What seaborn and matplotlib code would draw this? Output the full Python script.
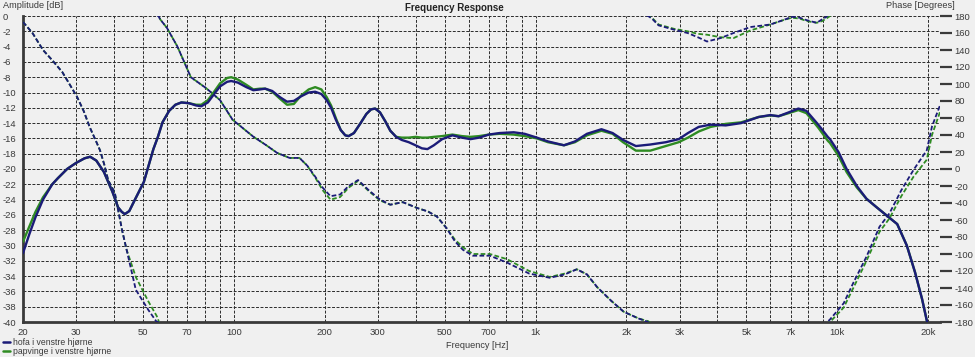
import numpy as np
import pandas as pd
import matplotlib
matplotlib.use("Agg")
import matplotlib.pyplot as plt
from matplotlib.ticker import FixedLocator, NullLocator, FixedFormatter
from matplotlib.lines import Line2D
import seaborn as sns

# ---------------- data ----------------
series_names = ["hofa i venstre hjørne", "papvinge i venstre hjørne"]
series_colors = ["#1b1b78", "#2e8b22"]

amp_freq = [20, 21, 22, 23.3, 25, 26.1, 28, 30, 32, 33.4, 35, 37.1, 39.6, 41.3, 42.5, 43.5,
            45, 47, 50.3, 54.1, 56, 58, 61, 64, 67, 71, 75, 78, 82, 86, 90, 95, 98, 103,
            110, 116, 122, 127, 134, 142, 150, 158, 167, 177, 186, 195, 203, 210, 218,
            226, 234, 240, 250, 262, 275, 285, 294, 305, 318, 330, 345, 360, 380, 400,
            420, 438, 460, 490, 530, 570, 608, 650, 700, 760, 846, 920, 1010, 1100, 1242,
            1350, 1480, 1653, 1800, 1950, 2150, 2400, 2700, 2980, 3200, 3472, 3800, 4270,
            4800, 5490, 6000, 6390, 6900, 7430, 7900, 8650, 9300, 9460, 10100, 10740, 11600,
            12500, 13500, 14600, 15800, 17000, 18100, 19100, 19800, 20300]

amp_hofa = [-31.0, -28.5, -26.3, -24.0, -22.0, -21.2, -20.0, -19.2, -18.6, -18.4, -18.9,
            -20.4, -23.0, -25.0, -25.6, -25.9, -25.5, -24.0, -21.7, -17.4, -15.8, -13.9,
            -12.4, -11.6, -11.3, -11.4, -11.7, -11.8, -11.3, -10.2, -9.2, -8.6, -8.5, -8.7,
            -9.3, -9.7, -9.6, -9.5, -9.8, -10.6, -11.2, -11.1, -10.5, -10.0, -9.9, -10.2,
            -11.0, -12.0, -13.6, -14.9, -15.6, -15.7, -15.3, -14.1, -12.8, -12.2, -12.1,
            -12.6, -13.8, -15.0, -15.8, -16.2, -16.5, -16.9, -17.3, -17.4, -16.9, -16.1,
            -15.6, -15.9, -16.1, -15.9, -15.5, -15.3, -15.2, -15.4, -15.9, -16.4, -16.9,
            -16.4, -15.4, -14.8, -15.3, -16.2, -17.0, -16.8, -16.5, -16.1, -15.3, -14.5,
            -14.2, -14.3, -14.0, -13.2, -12.95, -13.1, -12.6, -12.1, -12.4, -14.2, -15.8,
            -16.1, -17.8, -20.0, -22.2, -23.9, -25.0, -26.1, -27.2, -30.0, -33.5, -37.0,
            -39.8, -42.0]

amp_papvinge = [-29.5, -27.5, -25.6, -23.7, -22.0, -21.2, -20.0, -19.2, -18.6, -18.4, -18.9,
                -20.4, -23.0, -25.0, -25.6, -25.9, -25.5, -24.0, -21.7, -17.4, -15.8, -13.9,
                -12.4, -11.6, -11.3, -11.4, -11.6, -11.6, -11.0, -9.9, -8.8, -8.1, -8.0, -8.3,
                -9.0, -9.6, -9.5, -9.5, -9.9, -10.8, -11.6, -11.5, -10.4, -9.6, -9.3, -9.6,
                -10.6, -11.7, -13.4, -14.9, -15.6, -15.7, -15.3, -14.1, -12.8, -12.2, -12.1,
                -12.6, -13.8, -15.0, -15.8, -15.9, -15.9, -15.8, -15.9, -15.9, -15.8, -15.7,
                -15.5, -15.7, -15.8, -15.7, -15.5, -15.4, -15.5, -15.7, -16.0, -16.5, -16.9,
                -16.5, -15.6, -15.0, -15.4, -16.5, -17.6, -17.6, -17.0, -16.5, -15.9, -15.1,
                -14.5, -14.1, -13.9, -13.2, -13.0, -13.1, -12.7, -12.3, -12.7, -14.6, -16.3,
                -16.6, -18.3, -20.4, -22.4, -23.9, -25.0, -26.1, -27.2, -30.0, -33.5, -37.0,
                -39.8, -42.0]

# phase as displayed (wrapped to +-180 deg)
ph_freq = [20, 21.5, 23.3, 25, 27, 28.5, 30.2, 31.8, 33.3, 34.7, 36, 37.2, 38.3, 40.3,
           42.6, 44.1, 47.3, 52.1, 55.5, 56.2, 57, 60, 65, 72, 81, 90, 99, 108, 116, 128,
           139, 153, 165, 175, 186, 197, 209, 225, 240, 258, 280, 305, 330, 363, 406, 440,
           471, 508, 540, 574, 620, 705, 803, 952, 1115, 1250, 1370, 1480, 1600, 1780,
           1960, 2200, 2360, 2430, 2556, 2870, 3190, 3450, 3700, 4100, 4530, 5150, 6000,
           6600, 7070, 7500, 7930, 8550, 8900, 9200, 9460, 10500, 11300, 12500, 13800,
           14900, 16300, 17900, 19800, 20600, 21800, 22000]

ph_hofa = [173, 160, 140, 128, 114, 100, 85, 68, 49, 35, 22, 5, -13, -28,
           -72, -95, -142, -166, -180, 180, 176, 166, 144, 108, 95, 81, 58, 47, 38, 28,
           19, 13, 13, 4, -9, -22, -32, -30, -20, -13, -25, -36, -42, -39, -46, -50,
           -56, -70, -85, -95, -102, -102, -110, -123, -128, -124, -118, -124, -139, -155,
           -168, -176, -180, 177, 169, 164, 160, 155, 150, 154, 160, 167, 170,
           175, 179, 178, 175, 172, 176, 179, -177, -158, -134, -103, -68,
           -52, -25, -1, 22, 50, 73, 76]

ph_papvinge = [173, 160, 140, 128, 114, 100, 85, 68, 49, 35, 22, 5, -13, -28,
               -72, -95, -127, -156, -173, -178, 176, 166, 144, 108, 95, 81, 58, 47, 38, 28,
               19, 13, 13, 4, -10, -25, -36, -33, -22, -14, -26, -37, -42, -39, -46, -50,
               -56, -70, -83, -92, -100, -100, -106, -120, -127, -123, -118, -124, -139, -155,
               -168, -176, -179, 178, 170, 165, 162, 159, 158, 155, 154, 163, 170,
               175, 178, 177, 174, 172, 174, 177, -180, -163, -140, -108, -74,
               -58, -32, -9, 11, 40, 65, 70]

x_grid = [30, 40, 50, 60, 70, 80, 90, 100, 200, 300, 400, 500, 600, 700, 800, 900,
          1000, 2000, 3000, 4000, 5000, 6000, 7000, 8000, 9000, 10000, 20000]
x_labels = {20: "20", 30: "30", 50: "50", 70: "70", 100: "100", 200: "200", 300: "300",
            500: "500", 700: "700", 1000: "1k", 2000: "2k", 3000: "3k", 5000: "5k",
            7000: "7k", 10000: "10k", 20000: "20k"}
amp_ticks = list(range(0, -41, -2))
phase_ticks = list(range(180, -181, -20))

# ---------------- style ----------------
sns.set_theme(style="white")
plt.rcParams["font.family"] = ["Liberation Sans", "DejaVu Sans"]
BG = "#f0f0f0"
TXT = "#3a3a3a"

fig = plt.figure(figsize=(9.75, 3.57), dpi=100, facecolor=BG)
ax = fig.add_axes([23 / 975, 1 - 322 / 357, (940 - 23) / 975, (322 - 16) / 357])
ax.set_facecolor(BG)
ax2 = ax.twinx()

amp_df = pd.DataFrame({
    "freq": amp_freq * 2,
    "amp": amp_hofa + amp_papvinge,
    "series": [series_names[0]] * len(amp_freq) + [series_names[1]] * len(amp_freq),
})

# green below, navy on top
for name, col, z in [(series_names[1], series_colors[1], 3), (series_names[0], series_colors[0], 4)]:
    d = amp_df[amp_df.series == name]
    sns.lineplot(data=d, x="freq", y="amp", ax=ax, color=col, lw=1.7, sort=False,
                 estimator=None, legend=False, zorder=z)

# phase: unwrap, then draw copies shifted by 360 deg, clipped by axis limits
for vals, col, z in [(ph_papvinge, series_colors[1], 3), (ph_hofa, series_colors[0], 4)]:
    unw = np.unwrap(np.array(vals, dtype=float), period=360)
    for k in range(-1, 3):
        sns.lineplot(x=ph_freq, y=unw + 360 * k, ax=ax2, color=col, lw=1.3, sort=False,
                     estimator=None, legend=False, zorder=z)
        ax2.lines[-1].set_dashes((2.6, 1.3))

ax.set_xscale("log")
ax2.set_xscale("log")
xmax = 20 * 10 ** ((940 - 23) / 301.7)
ax.set_xlim(20, xmax)
ax.set_ylim(-40, 0)
ax2.set_ylim(-180, 180)

# x ticks / grid
xt = sorted(set(x_grid) | set(x_labels))
ax.xaxis.set_major_locator(FixedLocator(xt))
ax.xaxis.set_minor_locator(NullLocator())
ax.xaxis.set_major_formatter(FixedFormatter([x_labels.get(v, "") for v in xt]))
ax.set_yticks(amp_ticks)
ax.set_yticklabels([str(v) for v in amp_ticks])
ax.grid(True, which="major", color="#2a2a2a", lw=0.7, linestyle=(0, (3, 1.6)))
ax.set_axisbelow(True)

ax.tick_params(axis="x", length=0, pad=4, labelsize=6.8, colors=TXT)
ax.tick_params(axis="y", length=0, pad=14.4, labelsize=6.8, colors=TXT)
for lab in ax.get_yticklabels():
    lab.set_horizontalalignment("left")

ax2.set_yticks(phase_ticks)
ax2.set_yticklabels([str(v) for v in phase_ticks])
ax2.tick_params(axis="y", right=True, length=8.5, width=1.6, color="#3a3a3a",
                pad=2, labelsize=6.8, labelcolor=TXT)
ax2.set_xlabel("")
ax2.set_ylabel("")
ax.set_xlabel("")
ax.set_ylabel("")

for a in (ax, ax2):
    for s in ("top", "right"):
        a.spines[s].set_visible(False)
ax2.spines["left"].set_visible(False)
ax2.spines["bottom"].set_visible(False)
ax.spines["left"].set_color("#3a3a3a")
ax.spines["left"].set_linewidth(2)
ax.spines["bottom"].set_color("#3a3a3a")
ax.spines["bottom"].set_linewidth(2)

# texts
fig.text(454 / 975, 1 - 8 / 357, "Frequency Response", ha="center", va="center",
         fontsize=7, fontweight="bold", color="#222222")
fig.text(3 / 975, 1 - 5 / 357, "Amplitude [dB]", ha="left", va="center", fontsize=6.6, color=TXT)
fig.text(955 / 975, 1 - 5 / 357, "Phase [Degrees]", ha="right", va="center", fontsize=6.6, color=TXT)
fig.text(477 / 975, 1 - 345 / 357, "Frequency [Hz]", ha="center", va="center", fontsize=6.6, color=TXT)

handles = [Line2D([0], [0], color=c, lw=1.8) for c in series_colors]
fig.legend(handles, series_names, loc="upper left", bbox_to_anchor=(0.003, 1 - 338 / 357),
           frameon=False, fontsize=6.2, handlelength=0.8, handletextpad=0.4,
           labelspacing=0.0, borderpad=0.0, borderaxespad=0.0, labelcolor=TXT)

fig.savefig("out.png", dpi=100, facecolor=BG)
